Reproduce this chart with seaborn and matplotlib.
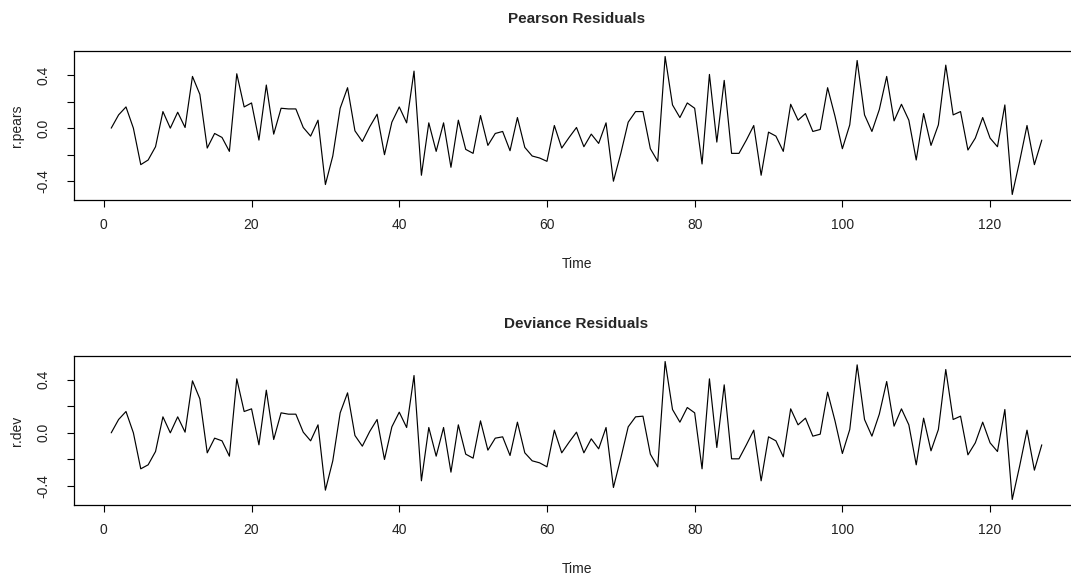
import numpy as np
import pandas as pd
import matplotlib
matplotlib.use("Agg")
import matplotlib.pyplot as plt
import seaborn as sns

# ---- data ----
time = list(range(1, 128))
r_pears = [0.00, 0.10, 0.16, 0.00, -0.275, -0.24, -0.14, 0.125, 0.00, 0.12,
           0.005, 0.39, 0.255, -0.15, -0.04, -0.07, -0.175, 0.41, 0.16, 0.19,
           -0.09, 0.325, -0.045, 0.15, 0.145, 0.145, 0.005, -0.06, 0.06, -0.425,
           -0.21, 0.15, 0.305, -0.02, -0.10, 0.01, 0.105, -0.20, 0.045, 0.16,
           0.04, 0.43, -0.355, 0.04, -0.175, 0.04, -0.295, 0.06, -0.16, -0.19,
           0.095, -0.13, -0.04, -0.025, -0.17, 0.08, -0.145, -0.21, -0.225, -0.25,
           0.02, -0.15, -0.07, 0.005, -0.14, -0.045, -0.115, 0.04, -0.40, -0.19,
           0.045, 0.125, 0.125, -0.155, -0.25, 0.54, 0.175, 0.08, 0.19, 0.15,
           -0.27, 0.405, -0.105, 0.36, -0.19, -0.19, -0.09, 0.02, -0.355, -0.03,
           -0.06, -0.175, 0.18, 0.06, 0.11, -0.025, -0.01, 0.305, 0.09, -0.155,
           0.025, 0.51, 0.10, -0.025, 0.14, 0.39, 0.055, 0.18, 0.06, -0.24,
           0.11, -0.13, 0.025, 0.475, 0.10, 0.125, -0.165, -0.075, 0.08, -0.075,
           -0.14, 0.175, -0.50, -0.25, 0.02, -0.275, -0.09]
r_dev = [0.00, 0.10, 0.16, 0.00, -0.27, -0.24, -0.14, 0.12, 0.00, 0.12,
         0.005, 0.39, 0.255, -0.15, -0.04, -0.06, -0.175, 0.405, 0.16, 0.18,
         -0.09, 0.32, -0.05, 0.15, 0.14, 0.14, 0.005, -0.06, 0.06, -0.43,
         -0.21, 0.15, 0.30, -0.02, -0.10, 0.01, 0.10, -0.20, 0.045, 0.155,
         0.04, 0.43, -0.36, 0.04, -0.175, 0.04, -0.295, 0.06, -0.16, -0.19,
         0.09, -0.13, -0.04, -0.03, -0.17, 0.08, -0.15, -0.21, -0.225, -0.255,
         0.02, -0.15, -0.07, 0.005, -0.15, -0.045, -0.12, 0.04, -0.41, -0.19,
         0.045, 0.12, 0.125, -0.16, -0.255, 0.535, 0.175, 0.08, 0.19, 0.15,
         -0.27, 0.405, -0.11, 0.36, -0.195, -0.195, -0.09, 0.02, -0.36, -0.03,
         -0.06, -0.18, 0.18, 0.06, 0.11, -0.025, -0.01, 0.305, 0.09, -0.155,
         0.025, 0.51, 0.10, -0.025, 0.14, 0.385, 0.05, 0.18, 0.06, -0.24,
         0.11, -0.135, 0.025, 0.475, 0.10, 0.125, -0.165, -0.075, 0.08, -0.075,
         -0.14, 0.175, -0.50, -0.25, 0.02, -0.28, -0.09]

x_ticks = [0, 20, 40, 60, 80, 100, 120]
y_ticks = [-0.4, -0.2, 0.0, 0.2, 0.4]
y_ticklabels = ["-0.4", "", "0.0", "", "0.4"]

panels = [("Pearson Residuals", "r.pears", r_pears),
          ("Deviance Residuals", "r.dev", r_dev)]

sns.set_theme(style="white")
plt.rcParams['font.family'] = ['Liberation Sans', 'DejaVu Sans']
plt.rcParams['axes.edgecolor'] = 'black'
plt.rcParams['axes.linewidth'] = 0.9

fig = plt.figure(figsize=(10.71, 5.74), dpi=100)
W, H = 1071.0, 574.0
boxes = [(74, 51, 1079, 200), (74, 356, 1079, 505)]

for (title, ylabel, vals), (l, t, r, b) in zip(panels, boxes):
    ax = fig.add_axes([l / W, 1 - b / H, (r - l) / W, (b - t) / H])
    df = pd.DataFrame({"Time": time, ylabel: vals})
    sns.lineplot(data=df, x="Time", y=ylabel, ax=ax, color="black",
                 linewidth=0.85, estimator=None)
    xr = max(time) - min(time)
    ax.set_xlim(min(time) - 0.04 * xr, max(time) + 0.04 * xr)
    yr = max(vals) - min(vals)
    ax.set_ylim(min(vals) - 0.04 * yr, max(vals) + 0.04 * yr)
    ax.set_xticks(x_ticks)
    ax.set_xticklabels([str(v) for v in x_ticks])
    ax.set_yticks(y_ticks)
    ax.set_yticklabels(y_ticklabels, rotation=90, va="center")
    ax.tick_params(axis="both", which="major", direction="out", length=5,
                   width=0.8, color="black", labelsize=10,
                   labelcolor="#222222", bottom=True, left=True)
    ax.tick_params(axis="x", pad=8)
    ax.tick_params(axis="y", pad=12)
    ax.set_xlabel("Time", fontsize=10, labelpad=18, color="#222222")
    ax.set_ylabel(ylabel, fontsize=10, labelpad=9, color="#222222")
    for s in ax.spines.values():
        s.set_visible(True)
        s.set_color("black")
    ax.set_title(title, fontsize=11, fontweight="bold", pad=20)

fig.savefig("out.png", dpi=100)
